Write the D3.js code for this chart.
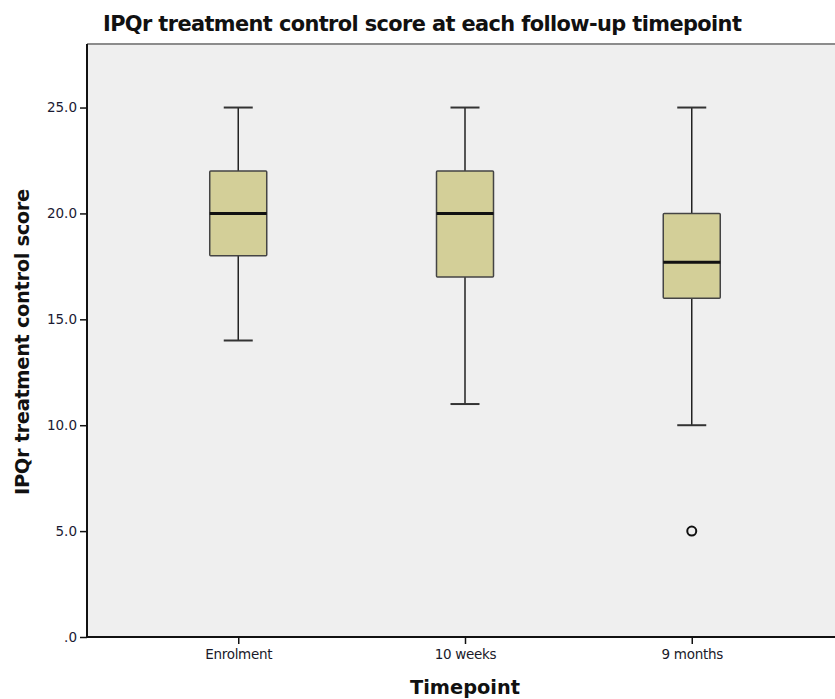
<!DOCTYPE html>
<html>
<head>
<meta charset="utf-8">
<script src="https://cdn.jsdelivr.net/npm/d3@7"></script>
<style>
  html, body { margin: 0; padding: 0; background: #fff; }
  svg { display: block; }
</style>
</head>
<body>
<svg id="chart" width="835" height="699"></svg>
<script>
// Five-number summaries per follow-up timepoint
const timepoints = ["Enrolment", "10 weeks", "9 months"];
const whiskerLow = [14, 11, 10];
const quartile1  = [18, 17, 16];
const medians    = [20, 20, 17.7];
const quartile3  = [22, 22, 20];
const whiskerHigh = [25, 25, 25];
// Outliers: [timepoint, value]
const outliers = [["9 months", 5]];
const yTicks = [0, 5, 10, 15, 20, 25];

const svg = d3.select("#chart");
const margin = { left: 87, top: 44, right: 843, bottom: 637 };
const fontMain = "'DejaVu Sans', Verdana, sans-serif";

const x = d3.scalePoint()
  .domain(timepoints)
  .range([margin.left, margin.right])
  .padding(0.667);

const y = d3.scaleLinear()
  .domain([0, 28])
  .range([margin.bottom, margin.top]);

const boxW = 57, capW = 29;

// Plot background
svg.append("rect")
  .attr("x", margin.left).attr("y", margin.top)
  .attr("width", margin.right - margin.left)
  .attr("height", margin.bottom - margin.top)
  .attr("fill", "#efefef");

// Top frame line
svg.append("line")
  .attr("x1", margin.left).attr("x2", margin.right)
  .attr("y1", margin.top).attr("y2", margin.top)
  .attr("stroke", "#8c8c8c").attr("stroke-width", 2);

const boxes = timepoints.map((t, i) => ({
  t, lo: whiskerLow[i], q1: quartile1[i], med: medians[i], q3: quartile3[i], hi: whiskerHigh[i]
}));

const g = svg.append("g");
boxes.forEach(d => {
  const cx = x(d.t);
  // whiskers
  g.append("line").attr("x1", cx).attr("x2", cx).attr("y1", y(d.hi)).attr("y2", y(d.q3))
    .attr("stroke", "#222").attr("stroke-width", 1.5);
  g.append("line").attr("x1", cx).attr("x2", cx).attr("y1", y(d.q1)).attr("y2", y(d.lo))
    .attr("stroke", "#222").attr("stroke-width", 1.5);
  // caps
  [d.hi, d.lo].forEach(v => {
    g.append("line").attr("x1", cx - capW / 2).attr("x2", cx + capW / 2)
      .attr("y1", y(v)).attr("y2", y(v))
      .attr("stroke", "#333").attr("stroke-width", 2);
  });
  // box
  g.append("rect")
    .attr("x", cx - boxW / 2).attr("y", y(d.q3))
    .attr("width", boxW).attr("height", y(d.q1) - y(d.q3))
    .attr("fill", "#d3cf98").attr("stroke", "#444").attr("stroke-width", 1.5)
    .attr("rx", 1);
  // median
  g.append("line").attr("x1", cx - boxW / 2).attr("x2", cx + boxW / 2)
    .attr("y1", y(d.med)).attr("y2", y(d.med))
    .attr("stroke", "#111").attr("stroke-width", 3);
});

// Outlier markers
g.selectAll("circle.outlier").data(outliers).enter().append("circle")
  .attr("class", "outlier")
  .attr("cx", d => x(d[0])).attr("cy", d => y(d[1]))
  .attr("r", 4.5)
  .attr("fill", "none").attr("stroke", "#111").attr("stroke-width", 2);

// Y axis
const yAxis = svg.append("g")
  .attr("transform", `translate(${margin.left},0)`)
  .call(d3.axisLeft(y).tickValues(yTicks).tickSize(7).tickSizeOuter(0)
    .tickFormat(d => d === 0 ? ".0" : d3.format(".1f")(d)));
yAxis.select(".domain").attr("stroke", "#111").attr("stroke-width", 2)
  .attr("d", `M0,${margin.top}V${margin.bottom + 1}`);
yAxis.selectAll(".tick line").attr("stroke", "#111").attr("stroke-width", 1.5);
yAxis.selectAll(".tick text")
  .attr("x", -10)
  .attr("fill", "#1a1a33")
  .style("font-family", fontMain)
  .style("font-size", "13.5px");

// X axis
const xAxis = svg.append("g")
  .attr("transform", `translate(0,${margin.bottom})`)
  .call(d3.axisBottom(x).tickSize(7).tickSizeOuter(0));
xAxis.select(".domain").attr("stroke", "#111").attr("stroke-width", 2)
  .attr("d", `M${margin.left - 1},0H${margin.right}`);
xAxis.selectAll(".tick line").attr("stroke", "#111").attr("stroke-width", 1.5);
xAxis.selectAll(".tick text")
  .attr("y", 12)
  .attr("fill", "#1a1a2a")
  .style("font-family", fontMain)
  .style("font-size", "13.5px")
  .style("letter-spacing", "-0.3px");

// Titles, sized so each spans its intended width
function fitText(sel, width) {
  const w = sel.node().getComputedTextLength();
  const fs = parseFloat(sel.style("font-size"));
  sel.style("font-size", (fs * width / w).toFixed(2) + "px");
  return sel;
}

const title = svg.append("text")
  .attr("x", 103).attr("y", 31)
  .style("font-family", fontMain)
  .style("font-weight", "bold")
  .style("font-size", "20px")
  .style("letter-spacing", "-0.6px")
  .attr("fill", "#111")
  .text("IPQr treatment control score at each follow-up timepoint");
fitText(title, 637);

const xTitle = svg.append("text")
  .attr("x", 465).attr("y", 694)
  .attr("text-anchor", "middle")
  .style("font-family", fontMain)
  .style("font-weight", "bold")
  .style("font-size", "18px")
  .attr("fill", "#111")
  .text("Timepoint");
fitText(xTitle, 110);

const yTitle = svg.append("text")
  .attr("transform", "translate(29,342) rotate(-90)")
  .attr("text-anchor", "middle")
  .style("font-family", fontMain)
  .style("font-weight", "bold")
  .style("font-size", "18px")
  .style("letter-spacing", "-0.4px")
  .attr("fill", "#111")
  .text("IPQr treatment control score");
fitText(yTitle, 305);
</script>
</body>
</html>
